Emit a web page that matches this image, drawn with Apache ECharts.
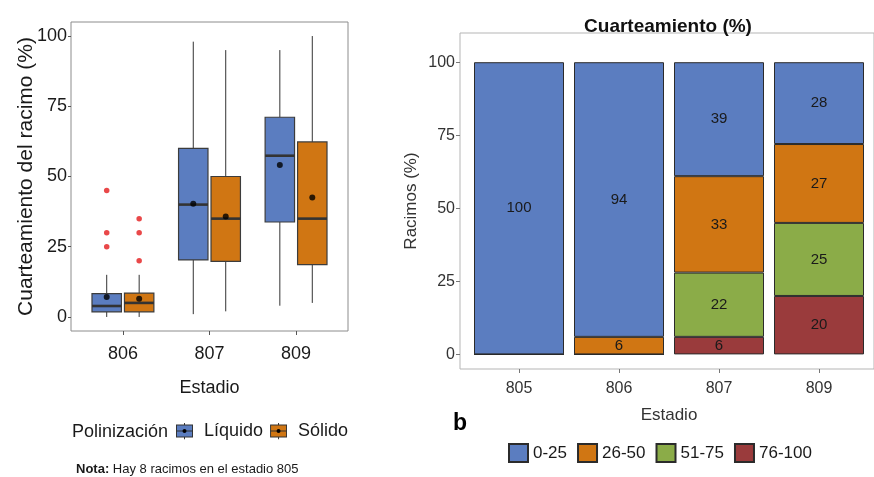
<!DOCTYPE html>
<html>
<head>
<meta charset="utf-8">
<script src="https://cdn.jsdelivr.net/npm/echarts@6/dist/echarts.min.js"></script>
<style>html,body{margin:0;padding:0;background:#fff}#c{width:874px;height:477px}</style>
</head>
<body>
<div id="c"></div>
<script>
// ---------- Panel a: boxplots ----------
const stages = ['806', '807', '809'];
// [min whisker, Q1, median, Q3, max whisker]
const liqStats = [[0, 1.8, 3.9, 8.3, 15], [1, 20.3, 40, 60, 98], [4, 33.8, 57.4, 71.1, 95]];
const solStats = [[0, 1.8, 5, 8.5, 15], [2, 19.8, 35, 50, 95], [5, 18.6, 35, 62.3, 100]];
const liqMeans = [7.1, 40.3, 54.1];
const solMeans = [6.5, 35.8, 42.5];
const liqOutStage = ['806', '806', '806'];
const liqOutValue = [45, 30, 25];
const solOutStage = ['806', '806', '806'];
const solOutValue = [35, 30, 20];
const yTicksA = [0, 25, 50, 75, 100];

// ---------- Panel b: stacked bars ----------
const stagesB = ['805', '806', '807', '809'];
const r0_25 = [100, 94, 39, 28];
const r26_50 = [0, 6, 33, 27];
const r51_75 = [0, 0, 22, 25];
const r76_100 = [0, 0, 6, 20];
const yTicksB = [0, 25, 50, 75, 100];

const C_BLUE = '#5B7DC0', C_ORANGE = '#D07613', C_GREEN = '#8BAC48', C_RED = '#9A3B3C';
const FONT = 'Liberation Sans, Arial, sans-serif';
const DODGE = 0.1875, HALF = 0.17;

function pos(stage) { return stages.indexOf(stage) + 1; }

function boxRender(offset) {
  return function (params, api) {
    const x = api.value(0) + offset;
    const lo = api.value(1), q1 = api.value(2), med = api.value(3), q3 = api.value(4), hi = api.value(5);
    const tl = api.coord([x - HALF, q3]);
    const br = api.coord([x + HALF, q1]);
    const c = api.coord([x, 0]);
    const yLo = api.coord([x, lo])[1], yHi = api.coord([x, hi])[1];
    const yQ1 = br[1], yQ3 = tl[1], yMed = api.coord([x, med])[1];
    return {
      type: 'group',
      children: [
        { type: 'line', shape: { x1: c[0], y1: yLo, x2: c[0], y2: yQ1 }, style: { stroke: '#333', lineWidth: 1 } },
        { type: 'line', shape: { x1: c[0], y1: yHi, x2: c[0], y2: yQ3 }, style: { stroke: '#333', lineWidth: 1 } },
        { type: 'rect', shape: { x: tl[0], y: tl[1], width: br[0] - tl[0], height: br[1] - tl[1] },
          style: { fill: api.visual('color'), stroke: '#3c3c3c', lineWidth: 1.2 } },
        { type: 'line', shape: { x1: tl[0], y1: yMed, x2: br[0], y2: yMed }, style: { stroke: '#333', lineWidth: 2.6 } }
      ]
    };
  };
}

function boxIcon(fill) {
  const svg = "<svg xmlns='http://www.w3.org/2000/svg' width='17' height='17' viewBox='0 0 17 17'>" +
    "<line x1='8.5' y1='0' x2='8.5' y2='17' stroke='#333' stroke-width='1'/>" +
    "<rect x='0.5' y='2.5' width='16' height='12' fill='" + fill + "' stroke='#333' stroke-width='1'/>" +
    "<line x1='0.5' y1='8.5' x2='16.5' y2='8.5' stroke='#333' stroke-width='1.2'/>" +
    "<circle cx='8.5' cy='8.5' r='2' fill='#000'/></svg>";
  return 'image://data:image/svg+xml;charset=utf-8,' + encodeURIComponent(svg);
}

const liqBoxData = liqStats.map((s, i) => [i + 1].concat(s));
const solBoxData = solStats.map((s, i) => [i + 1].concat(s));
const meanData = liqMeans.map((m, i) => [i + 1 - DODGE, m]).concat(solMeans.map((m, i) => [i + 1 + DODGE, m]));
const outData = liqOutValue.map((v, i) => [pos(liqOutStage[i]) - DODGE, v])
  .concat(solOutValue.map((v, i) => [pos(solOutStage[i]) + DODGE, v]));

const barSeries = [
  ['76-100', r76_100, C_RED],
  ['51-75', r51_75, C_GREEN],
  ['26-50', r26_50, C_ORANGE],
  ['0-25', r0_25, C_BLUE]
].map(([name, vals, color]) => ({
  name: name, type: 'bar', stack: 'b', xAxisIndex: 2, yAxisIndex: 2,
  barWidth: '90%', data: vals,
  itemStyle: { color: color, borderColor: '#2b2b2b', borderWidth: 1 },
  label: {
    show: true, position: 'inside', color: '#1a1a1a', fontSize: 15, fontFamily: FONT,
    formatter: p => (p.value ? String(p.value) : '')
  }
}));

const chart = echarts.init(document.getElementById('c'), null, { renderer: 'canvas' });
chart.setOption({
  animation: false,
  backgroundColor: '#fff',
  textStyle: { fontFamily: FONT },
  title: [
    { text: 'Cuarteamiento (%)', left: 668, top: 17, textAlign: 'center', padding: 0,
      textStyle: { fontSize: 19, fontWeight: 'bold', color: '#111', fontFamily: FONT } },
    { text: 'Polinización', left: 72, top: 423, padding: 0,
      textStyle: { fontSize: 18, fontWeight: 'normal', color: '#1a1a1a', fontFamily: FONT } },
    { text: '{b|Nota:} Hay 8 racimos en el estadio 805', left: 76, top: 463, padding: 0,
      textStyle: { fontSize: 13, fontWeight: 'normal', color: '#1a1a1a', fontFamily: FONT,
        rich: { b: { fontWeight: 'bold', fontSize: 13, color: '#1a1a1a', fontFamily: FONT } } } },
    { text: 'b', left: 453, top: 412, padding: 0,
      textStyle: { fontSize: 23, fontWeight: 'bold', color: '#000', fontFamily: FONT } }
  ],
  legend: [
    { data: [{ name: 'Líquido', icon: boxIcon(C_BLUE) }, { name: 'Sólido', icon: boxIcon(C_ORANGE) }],
      left: 176, top: 422, orient: 'horizontal', padding: 0,
      itemWidth: 17, itemHeight: 17, itemGap: 7,
      textStyle: { fontSize: 18, color: '#1a1a1a', fontFamily: FONT, padding: [0, 0, 0, 6] } },
    { data: ['0-25', '26-50', '51-75', '76-100'], left: 508, top: 443, padding: 0, icon: 'rect',
      itemWidth: 19, itemHeight: 18, itemGap: 10,
      textStyle: { fontSize: 17, color: '#1a1a1a', fontFamily: FONT } }
  ],
  grid: [
    { left: 71, top: 22, width: 277, height: 309, show: true, borderColor: '#8c8c8c', borderWidth: 1, backgroundColor: 'transparent' },
    { left: 460, top: 33, width: 420, height: 336, show: true, borderColor: '#b5b5b5', borderWidth: 1, backgroundColor: 'transparent' },
    { left: 469, top: 33, width: 400, height: 336, show: false }
  ],
  xAxis: [
    { type: 'value', gridIndex: 0, min: 0.4, max: 3.6, position: 'bottom',
      axisLine: { show: false, onZero: false }, splitLine: { show: false },
      axisTick: { show: true, customValues: [1, 2, 3], length: 4, lineStyle: { color: '#555' } },
      axisLabel: { customValues: [1, 2, 3], formatter: v => stages[Math.round(v) - 1], fontSize: 18, color: '#1a1a1a', margin: 14 },
      name: 'Estadio', nameLocation: 'middle', nameGap: 48,
      nameTextStyle: { fontSize: 18, color: '#1a1a1a' } },
    { type: 'value', gridIndex: 1, min: 0, max: 1, show: false },
    { type: 'category', gridIndex: 2, data: stagesB, boundaryGap: true, position: 'bottom',
      axisLine: { show: false, onZero: false }, splitLine: { show: false },
      axisTick: { show: true, alignWithLabel: true, length: 4, lineStyle: { color: '#777' } },
      axisLabel: { fontSize: 16, color: '#333', margin: 12 },
      name: 'Estadio', nameLocation: 'middle', nameGap: 38,
      nameTextStyle: { fontSize: 17, color: '#333' } }
  ],
  yAxis: [
    { type: 'value', gridIndex: 0, min: -5, max: 105,
      axisLine: { show: false, onZero: false }, splitLine: { show: false },
      axisTick: { show: true, customValues: yTicksA, length: 3, lineStyle: { color: '#555' } },
      axisLabel: { customValues: yTicksA, fontSize: 18, color: '#1a1a1a', margin: 4 },
      name: 'Cuarteamiento del racimo (%)', nameLocation: 'middle', nameGap: 34, nameRotate: 90,
      nameMoveOverlap: false,
      nameTextStyle: { fontSize: 21, color: '#1a1a1a' } },
    { type: 'value', gridIndex: 1, min: -5, max: 110,
      axisLine: { show: false, onZero: false }, splitLine: { show: false },
      axisTick: { show: true, customValues: yTicksB, length: 4, lineStyle: { color: '#777' } },
      axisLabel: { customValues: yTicksB, fontSize: 16, color: '#333', margin: 5 },
      name: 'Racimos (%)', nameLocation: 'middle', nameGap: 40, nameRotate: 90,
      nameTextStyle: { fontSize: 17, color: '#333' } },
    { type: 'value', gridIndex: 2, min: -5, max: 110, show: false }
  ],
  series: [
    { name: 'Líquido', type: 'custom', xAxisIndex: 0, yAxisIndex: 0, data: liqBoxData,
      encode: { x: 0, y: [1, 2, 3, 4, 5] }, itemStyle: { color: C_BLUE }, renderItem: boxRender(-DODGE) },
    { name: 'Sólido', type: 'custom', xAxisIndex: 0, yAxisIndex: 0, data: solBoxData,
      encode: { x: 0, y: [1, 2, 3, 4, 5] }, itemStyle: { color: C_ORANGE }, renderItem: boxRender(DODGE) },
    { name: 'outliers', type: 'scatter', xAxisIndex: 0, yAxisIndex: 0, data: outData,
      symbolSize: 5.5, itemStyle: { color: '#E31A1C' }, z: 5 },
    { name: 'means', type: 'scatter', xAxisIndex: 0, yAxisIndex: 0, data: meanData,
      symbolSize: 6, itemStyle: { color: '#000' }, z: 6 }
  ].concat(barSeries)
});
</script>
</body>
</html>
